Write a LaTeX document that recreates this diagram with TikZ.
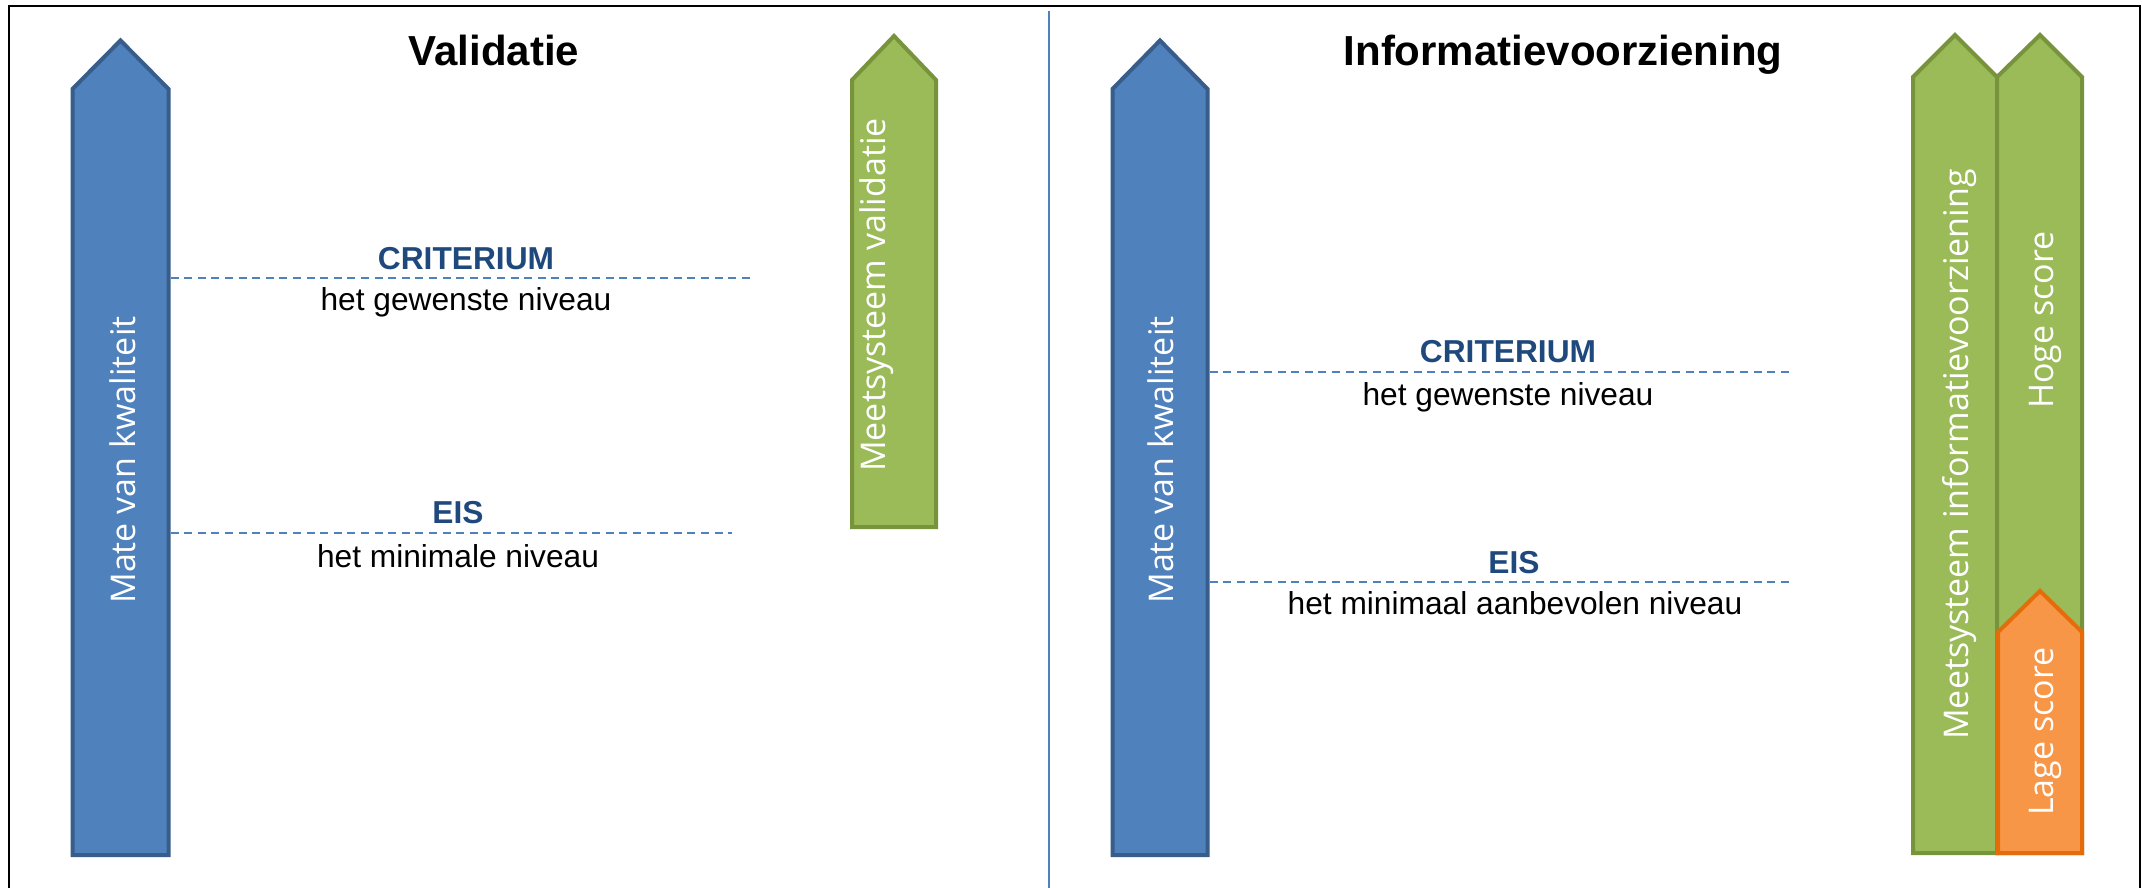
\documentclass[tikz,border=0pt]{standalone}
\usepackage{fontspec}
\setmainfont{Liberation Sans}
\newfontfamily\arrowfont{Open Sans}
\definecolor{blueFill}{HTML}{4F81BD}
\definecolor{blueLine}{HTML}{385D8A}
\definecolor{greenFill}{HTML}{9BBB59}
\definecolor{greenLine}{HTML}{77933C}
\definecolor{orangeFill}{HTML}{F79646}
\definecolor{orangeLine}{HTML}{E46C0A}
\definecolor{levelBlue}{HTML}{1F497D}
\definecolor{dashBlue}{HTML}{4F81BD}
\begin{document}
\begin{tikzpicture}[x=1pt,y=-1pt,
  bluearrow/.style={fill=blueFill, draw=blueLine, line width=4pt, line join=miter},
  greenarrow/.style={fill=greenFill, draw=greenLine, line width=4pt, line join=miter},
  orangearrow/.style={fill=orangeFill, draw=orangeLine, line width=4pt, line join=miter},
  titletext/.style={font=\fontsize{42}{50}\selectfont\bfseries, anchor=base, inner sep=0pt},
  leveltext/.style={font=\fontsize{31.7}{38}\selectfont\bfseries, text=levelBlue, anchor=base, inner sep=0pt},
  desctext/.style={font=\fontsize{31.7}{38}\selectfont, anchor=base, inner sep=0pt},
  arrowtext/.style={font=\arrowfont\fontsize{34}{40}\selectfont, text=white, rotate=90, anchor=base, inner sep=0pt},
  levelline/.style={draw=dashBlue, line width=1.8pt, dash pattern=on 8pt off 5.6pt},
  framebox/.style={draw=black, line width=2pt},
  divider/.style={draw=dashBlue, line width=1.5pt}]
\useasboundingbox (0,0) rectangle (2142,888);
\fill[white] (0,0) rectangle (2142,888);
% frame and divider
\draw[framebox] (9,888) -- (9,6) -- (2140,6) -- (2140,888);
\coordinate (divtop) at (1049,11);
\coordinate (divbot) at (1049,888);
\draw[divider] (divtop) -- (divbot);

% ---------- left panel: Validatie ----------
\draw[bluearrow] (72.5,855) -- (72.5,89) -- (120.5,40.5) -- (168.5,89) -- (168.5,855) -- cycle;
\node[arrowtext] (kwalL) at (135,460) {Mate van kwaliteit};
\draw[greenarrow] (852,527) -- (852,80) -- (894,36) -- (936,80) -- (936,527) -- cycle;
\node[arrowtext] (meetL) at (885,295) {Meetsysteem validatie};
\node[titletext] (titleL) at (494,66) {Validatie};

\coordinate (critLa) at (170.5,278);
\coordinate (critLb) at (751,278);
\draw[levelline] (critLa) -- (critLb);
\node[leveltext] (critL) at (466,269) {CRITERIUM};
\node[desctext] (critLd) at (466,310) {het gewenste niveau};

\coordinate (eisLa) at (170.5,533);
\coordinate (eisLb) at (732,533);
\draw[levelline] (eisLa) -- (eisLb);
\node[leveltext] (eisL) at (458,523) {EIS};
\node[desctext] (eisLd) at (458,567) {het minimale niveau};

% ---------- right panel: Informatievoorziening ----------
\draw[bluearrow] (1112.5,855) -- (1112.5,89) -- (1160,40.5) -- (1207.5,89) -- (1207.5,855) -- cycle;
\node[arrowtext] (kwalR) at (1173,460) {Mate van kwaliteit};
\node[titletext] (titleR) at (1563,66) {Informatievoorziening};

\coordinate (critRa) at (1209.5,372);
\coordinate (critRb) at (1790,372);
\draw[levelline] (critRa) -- (critRb);
\node[leveltext] (critR) at (1508,362) {CRITERIUM};
\node[desctext] (critRd) at (1508,405) {het gewenste niveau};

\coordinate (eisRa) at (1209.5,582);
\coordinate (eisRb) at (1793,582);
\draw[levelline] (eisRa) -- (eisRb);
\node[leveltext] (eisR) at (1514,573) {EIS};
\node[desctext] (eisRd) at (1515,614) {het minimaal aanbevolen niveau};

\draw[greenarrow] (1913,853) -- (1913,77) -- (1955,35) -- (1997,77) -- (1997,853) -- cycle;
\draw[greenarrow] (1997,853) -- (1997,77) -- (2040,35) -- (2082,77) -- (2082,853) -- cycle;
\draw[orangearrow] (1998,853) -- (1998,632) -- (2040,591) -- (2082,632) -- (2082,853) -- cycle;
\node[arrowtext] (meetR) at (1968,454.5) {Meetsysteem informatievoorziening};
\node[arrowtext] (hoog) at (2053,320) {Hoge score};
\node[arrowtext] (laag) at (2053,731.5) {Lage score};
\end{tikzpicture}
\end{document}
